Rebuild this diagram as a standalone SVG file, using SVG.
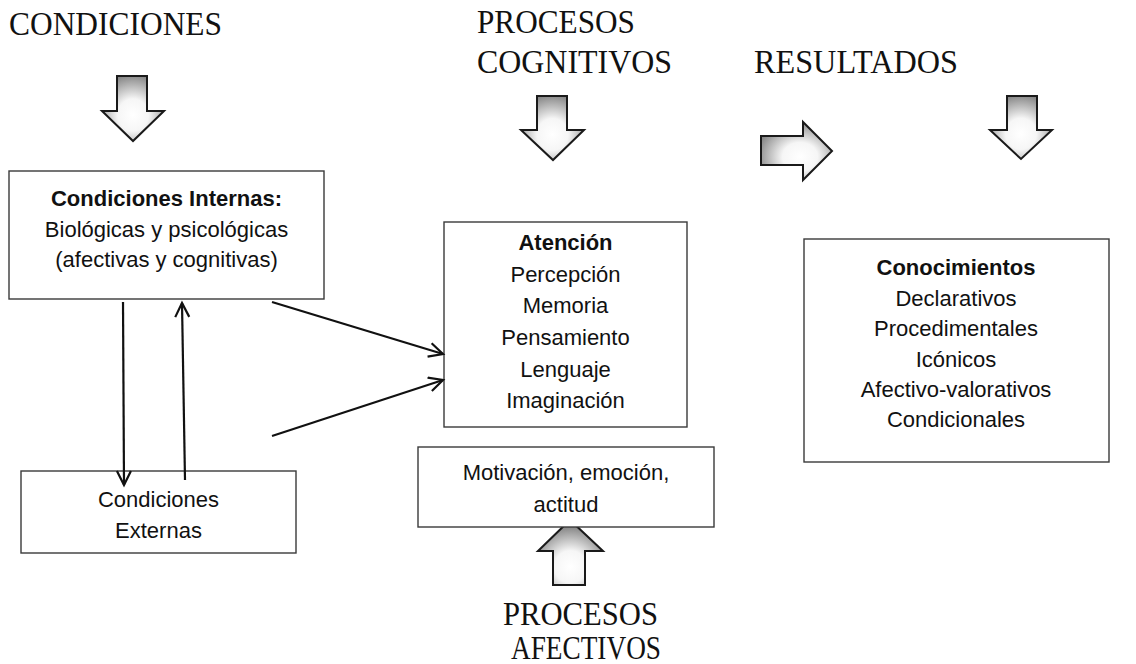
<svg xmlns="http://www.w3.org/2000/svg" width="1136" height="664" viewBox="0 0 1136 664">
<style>
.box{fill:#fff;stroke:#3a3a3a;stroke-width:1.4}
.t{font-family:"Liberation Sans",Arial,sans-serif;font-size:22px;fill:#111;text-anchor:middle}
.b{font-weight:bold}
.h{font-family:"Liberation Serif","Times New Roman",serif;font-size:33px;fill:#111}
.blk{stroke:#1a1a1a;stroke-width:2;stroke-linejoin:miter}
.con{stroke:#111;stroke-width:2.2;fill:none}
</style>
<defs>
<radialGradient id="gd" cx="0.5" cy="0.6" r="0.62">
<stop offset="0" stop-color="#ffffff"/>
<stop offset="0.4" stop-color="#f6f6f6"/>
<stop offset="1" stop-color="#858585"/>
</radialGradient>
<radialGradient id="gr" cx="0.55" cy="0.6" r="0.62">
<stop offset="0" stop-color="#ffffff"/>
<stop offset="0.4" stop-color="#f6f6f6"/>
<stop offset="1" stop-color="#858585"/>
</radialGradient>
<radialGradient id="gu" cx="0.5" cy="0.72" r="0.62">
<stop offset="0" stop-color="#ffffff"/>
<stop offset="0.4" stop-color="#f6f6f6"/>
<stop offset="1" stop-color="#858585"/>
</radialGradient>
<marker id="ah" markerWidth="20" markerHeight="20" refX="16" refY="8" orient="auto" markerUnits="userSpaceOnUse">
<path d="M2,1 L16,8 L2,15" fill="none" stroke="#111" stroke-width="2.2"/>
</marker>
</defs>

<g id="titles">
<text class="h" x="9" y="35" textLength="213" lengthAdjust="spacingAndGlyphs">CONDICIONES</text>
<text class="h" x="477" y="33" textLength="158" lengthAdjust="spacingAndGlyphs">PROCESOS</text>
<text class="h" x="477" y="73" textLength="195" lengthAdjust="spacingAndGlyphs">COGNITIVOS</text>
<text class="h" x="754" y="73" textLength="204" lengthAdjust="spacingAndGlyphs">RESULTADOS</text>
<text class="h" x="503" y="625" textLength="155" lengthAdjust="spacingAndGlyphs">PROCESOS</text>
<text class="h" x="511" y="659" textLength="150" lengthAdjust="spacingAndGlyphs">AFECTIVOS</text>
</g>

<g id="block-arrows">
<path class="blk" fill="url(#gd)" d="M117,76 H147 V111 H164 L133,141 L102,111 H117 Z"/>
<path class="blk" fill="url(#gd)" d="M537,96 H567 V130 H584 L553,160 L521,130 H537 Z"/>
<path class="blk" fill="url(#gd)" d="M1007,96 H1037 V130 H1052 L1021,159 L990,130 H1007 Z"/>
<path class="blk" fill="url(#gr)" d="M761,136 H803 V122 L832,151 L803,180 V165 H761 Z"/>
<path class="blk" fill="url(#gu)" d="M553,585 H585 V551 H603 L570,520 L538,551 H553 Z"/>
</g>

<g id="n-internas">
<rect class="box" x="9" y="171" width="315" height="128"/>
<text class="t b" x="166.5" y="206">Condiciones Internas:</text>
<text class="t" x="166.5" y="237">Biológicas y psicológicas</text>
<text class="t" x="166.5" y="267">(afectivas y cognitivas)</text>
</g>

<g id="n-externas">
<rect class="box" x="21" y="471" width="275" height="82"/>
<text class="t" x="158.5" y="507">Condiciones</text>
<text class="t" x="158.5" y="538">Externas</text>
</g>

<g id="n-cognitivos">
<rect class="box" x="444" y="222" width="243" height="205"/>
<text class="t b" x="565.5" y="250">Atención</text>
<text class="t" x="565.5" y="282">Percepción</text>
<text class="t" x="565.5" y="313">Memoria</text>
<text class="t" x="565.5" y="345">Pensamiento</text>
<text class="t" x="565.5" y="377">Lenguaje</text>
<text class="t" x="565.5" y="408">Imaginación</text>
</g>

<g id="n-afectivos">
<rect class="box" x="418" y="447" width="296" height="80"/>
<text class="t" x="566" y="480">Motivación, emoción,</text>
<text class="t" x="566" y="512">actitud</text>
</g>

<g id="n-resultados">
<rect class="box" x="804" y="239" width="305" height="223"/>
<text class="t b" x="956" y="275">Conocimientos</text>
<text class="t" x="956" y="306">Declarativos</text>
<text class="t" x="956" y="336">Procedimentales</text>
<text class="t" x="956" y="367">Icónicos</text>
<text class="t" x="956" y="397">Afectivo-valorativos</text>
<text class="t" x="956" y="427">Condicionales</text>
</g>

<g id="connectors">
<line class="con" x1="123" y1="302" x2="124" y2="485" marker-end="url(#ah)"/>
<line class="con" x1="185" y1="480" x2="182" y2="303" marker-end="url(#ah)"/>
<line class="con" x1="272" y1="302" x2="443" y2="354" marker-end="url(#ah)"/>
<line class="con" x1="272" y1="436" x2="443" y2="380" marker-end="url(#ah)"/>
</g>
</svg>
